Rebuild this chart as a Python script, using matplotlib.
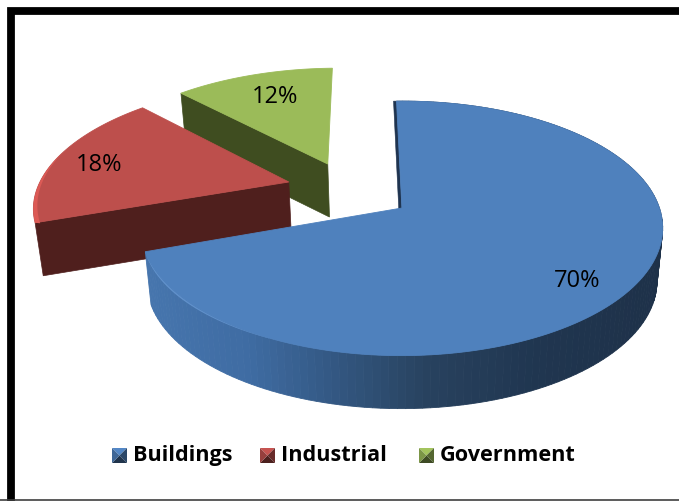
import numpy as np
import matplotlib
matplotlib.use("Agg")
import matplotlib.pyplot as plt
from matplotlib.colors import to_rgb
from matplotlib.patches import Polygon, Rectangle

# Chart data
categories = ["Buildings", "Industrial", "Government"]
shares = [70, 18, 12]

# Slice appearance
top_colors = ["#4f81bd", "#bd4f4c", "#9bbb59"]
wall_colors = ["#1f3450", "#4f1f1d", "#3f4d20"]
explode_xy = [(-0.012, 0.0), (-0.467, 0.217), (-0.318, 0.376)]
label_xy = [(577, 281), (99, 165), (275, 97)]
legend_box_x = [112, 260, 419]
legend_text_x = [133, 281, 440]

# Perspective of the pie plane (pixel space)
CX, CY, A, B, K = 405.0, 209.0, 257.5, 124.0, 0.16
DEPTH, SHRINK = 53.0, 0.022
START = np.radians(-1.5)

FONT = "Open Sans"


def project(x, y):
    """Map pie-plane coordinates to canvas pixels."""
    w = 1 + K * y
    return np.column_stack([CX + A * x / w, CY - B * y / w])


def lower(pts):
    """Matching points on the underside of the disc."""
    out = pts.copy()
    out[:, 0] += (CX - out[:, 0]) * SHRINK
    out[:, 1] += DEPTH
    return out


fig = plt.figure(figsize=(6.79, 5.02), dpi=100)
ax = fig.add_axes([0, 0, 1, 1])
ax.set_xlim(0, 679)
ax.set_ylim(502, 0)
ax.axis("off")

# Chart frame
ax.add_patch(Rectangle((11.2, 11.5), 700, 600, fc="white", ec="black", lw=5.6, zorder=0))
ax.plot([0, 679], [500.5, 500.5], color="#404040", lw=1.2, zorder=30)

# Slice geometry: angles run clockwise from the back of the pie
edges = START + np.cumsum([0] + shares) / sum(shares) * 2 * np.pi

# Wall shading of the large slice, light at the left and dark to the right
shade_x = [150, 250, 340, 430, 540, 665]
shade_c = np.array([to_rgb(c) for c in
                    ["#4675ad", "#3f6ca3", "#335781", "#28425f", "#203650", "#1e3149"]])

for i in [2, 1, 0]:
    z = 2 + (2 - i) * 3
    ex, ey = explode_xy[i]
    t = np.linspace(edges[i], edges[i + 1], 160)
    rim = project(np.sin(t) + ex, np.cos(t) + ey)
    apex = project(np.array([ex]), np.array([ey]))
    rim_low = lower(rim)
    apex_low = lower(apex)

    if i == 0:
        # Outer wall in narrow strips so it can be shaded along its length
        for j in range(len(t) - 1):
            quad = np.vstack([rim[j:j + 2], rim_low[j:j + 2][::-1]])
            col = [np.interp(rim[j, 0], shade_x, shade_c[:, c]) for c in range(3)]
            ax.add_patch(Polygon(quad, fc=col, ec=col, lw=0.6, zorder=z))
        # Thin sliver of the inner wall along the start edge
        sliver = np.vstack([apex, rim[:1], rim[:1] + [-3, 0], apex + [-3, 4]])
        ax.add_patch(Polygon(sliver, fc=wall_colors[0], ec=wall_colors[0], lw=0.4, zorder=z + 1))
    else:
        # Cut face on the viewer's side
        face = np.vstack([apex, rim[:1], rim_low[:1], apex_low])
        ax.add_patch(Polygon(face, fc=wall_colors[i], ec=wall_colors[i], lw=0.5, zorder=z + 1))

    # Top face
    ax.add_patch(Polygon(np.vstack([apex, rim]), fc=top_colors[i], ec=top_colors[i],
                         lw=0.6, zorder=z + 2))

    # Lit bevel along the left rim of the front slices
    if i == 0:
        mask = t > np.radians(205)
        band = rim[mask]
        fade = np.linspace(0.4, 5.0, len(band))
        low = band + np.column_stack([fade * 0.3, fade])
        ax.add_patch(Polygon(np.vstack([band, low[::-1]]), fc="#6a9bd6", ec="none",
                             alpha=0.75, zorder=z + 0.1))
    if i == 1:
        mask = t < np.radians(285)
        band = rim[mask]
        fade = np.linspace(5.0, 0.3, len(band))
        ins = band + np.column_stack([fade, fade * 0.1])
        ax.add_patch(Polygon(np.vstack([band, ins[::-1]]), fc="#dc5a55", ec="none", zorder=z + 2.5))

    ax.text(*label_xy[i], f"{shares[i]}%", family=FONT, fontsize=17, color="black",
            ha="center", va="center", zorder=20)

# Legend with pyramid-shaded keys
for i, name in enumerate(categories):
    x0, y0, s = legend_box_x[i], 449, 15
    mid = (x0 + s / 2, y0 + s / 2)
    base = np.array(to_rgb(top_colors[i]))
    corners = [(x0, y0), (x0 + s, y0), (x0 + s, y0 + s), (x0, y0 + s)]
    for k, factor in enumerate([1.05, 0.55, 0.4, 0.8]):
        tri = [corners[k], corners[(k + 1) % 4], mid]
        ax.add_patch(Polygon(tri, fc=np.clip(base * factor, 0, 1), ec="none", zorder=20))
    ax.text(legend_text_x[i], 456, name, family=FONT, fontweight="bold", fontsize=15.6,
            color="black", ha="left", va="center", zorder=20)

fig.savefig("out.png", dpi=100)
